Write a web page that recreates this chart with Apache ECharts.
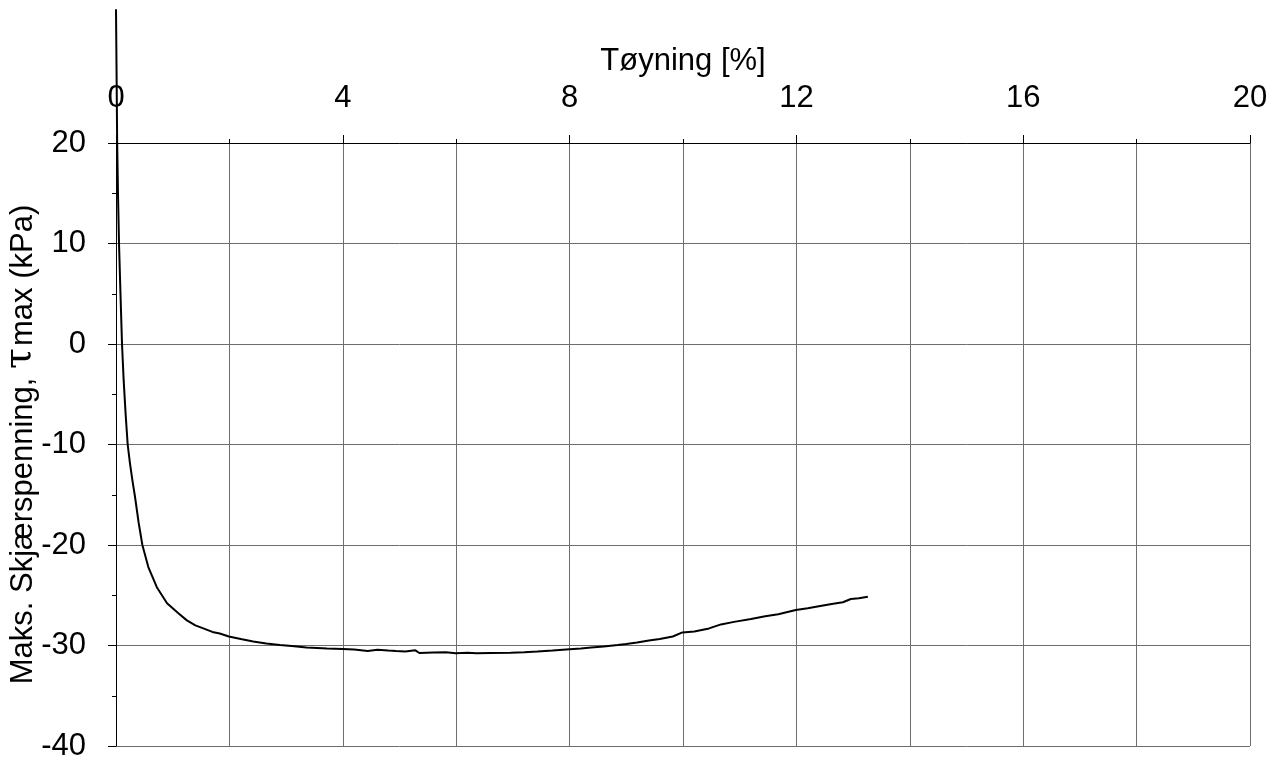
<!DOCTYPE html>
<html>
<head>
<meta charset="utf-8">
<script src="https://cdn.jsdelivr.net/npm/echarts@6/dist/echarts.min.js"></script>
<style>html,body{margin:0;padding:0;background:#fff}#c{width:1285px;height:765px}</style>
</head>
<body>
<div id="c"></div>
<script>
const strain = [0, 0.01, 0.02, 0.035, 0.053, 0.08, 0.106, 0.135, 0.17, 0.206, 0.247, 0.29, 0.335, 0.4, 0.465, 0.57, 0.72, 0.9, 1.1, 1.25, 1.4, 1.54, 1.7, 1.83, 1.99, 2.2, 2.42, 2.65, 2.89, 3.1, 3.36, 3.55, 3.72, 4.0, 4.2, 4.44, 4.61, 4.8, 4.94, 5.1, 5.28, 5.35, 5.6, 5.82, 5.99, 6.2, 6.36, 6.6, 6.96, 7.2, 7.43, 7.7, 8.0, 8.2, 8.38, 8.6, 8.85, 9.0, 9.19, 9.4, 9.59, 9.82, 9.99, 10.2, 10.46, 10.67, 10.9, 11.2, 11.45, 11.68, 11.99, 12.2, 12.42, 12.65, 12.82, 12.96, 13.1, 13.26];
const tauMax = [33.3, 27, 20.3, 15, 10, 4.8, 0, -3.6, -7, -10, -11.9, -13.6, -15.2, -17.8, -20, -22.2, -24.2, -25.8, -26.8, -27.5, -28.0, -28.3, -28.65, -28.8, -29.1, -29.35, -29.6, -29.8, -29.95, -30.05, -30.2, -30.25, -30.3, -30.35, -30.4, -30.55, -30.42, -30.5, -30.55, -30.6, -30.48, -30.75, -30.7, -30.68, -30.78, -30.72, -30.78, -30.74, -30.71, -30.66, -30.6, -30.5, -30.38, -30.3, -30.2, -30.1, -29.95, -29.85, -29.7, -29.5, -29.35, -29.1, -28.7, -28.6, -28.3, -27.9, -27.65, -27.36, -27.1, -26.9, -26.47, -26.3, -26.07, -25.85, -25.7, -25.37, -25.3, -25.14];
const xTitle = 'Tøyning [%]';
const yTitleStart = 'Maks. Skjærspenning, ';
const yTitleSymbol = 'τ';
const yTitleEnd = 'max (kPa)';

const font = 'Liberation Sans, Arial, sans-serif';
const gridColor = '#6e6e6e';
const chart = echarts.init(document.getElementById('c'));
chart.setOption({
  animation: false,
  grid: {left: 116, right: 35, top: 143, bottom: 19, containLabel: false, outerBoundsMode: 'none'},
  xAxis: {
    type: 'value', position: 'top', min: 0, max: 20, interval: 4,
    name: xTitle, nameLocation: 'middle', nameGap: 66, nameMoveOverlap: false,
    nameTextStyle: {fontFamily: font, fontSize: 31, color: '#000'},
    axisLine: {show: true, onZero: false, lineStyle: {color: '#000', width: 1}},
    axisTick: {show: true, length: 8, lineStyle: {color: '#000'}},
    minorTick: {show: true, splitNumber: 2, length: 4, lineStyle: {color: '#000'}},
    axisLabel: {fontFamily: font, fontSize: 31, color: '#000', margin: 29},
    splitLine: {show: true, lineStyle: {color: gridColor, width: 1}},
    minorSplitLine: {show: true, lineStyle: {color: gridColor, width: 1}}
  },
  yAxis: {
    type: 'value', min: -40, max: 20, interval: 10,
    name: '{a|' + yTitleStart + '}{t|' + yTitleSymbol + '}{a|' + yTitleEnd + '}',
    nameLocation: 'middle', nameGap: 77, nameRotate: 90, nameMoveOverlap: false,
    nameTextStyle: {
      fontFamily: font, fontSize: 31, color: '#000',
      rich: {
        a: {fontFamily: font, fontSize: 31, color: '#000', verticalAlign: 'bottom'},
        t: {fontFamily: 'DejaVu Serif', fontSize: 38, color: '#000', verticalAlign: 'bottom', padding: [0, 2, 0, 0]}
      }
    },
    axisLine: {show: true, onZero: false, lineStyle: {color: '#000', width: 1}},
    axisTick: {show: true, length: 8, lineStyle: {color: '#000'}},
    minorTick: {show: true, splitNumber: 2, length: 4, lineStyle: {color: '#000'}},
    axisLabel: {fontFamily: font, fontSize: 31, color: '#000', margin: 30},
    splitLine: {show: true, lineStyle: {color: gridColor, width: 1}}
  },
  series: [{
    type: 'line',
    data: strain.map((s, i) => [s, tauMax[i]]),
    showSymbol: false,
    clip: false,
    smooth: false,
    lineStyle: {color: '#000', width: 2}
  }]
});
</script>
</body>
</html>
